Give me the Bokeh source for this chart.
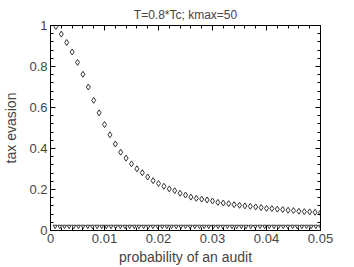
from bokeh.plotting import figure
from bokeh.models import LinearAxis, FixedTicker, Range1d
from bokeh.embed import file_html
from bokeh.resources import INLINE

# Data
audit_prob = [0.001 * k for k in range(1, 51)]
tax_evasion = [0.995, 0.958, 0.917, 0.871, 0.820, 0.762, 0.700, 0.635, 0.574, 0.517,
               0.467, 0.422, 0.382, 0.353, 0.325, 0.301, 0.282, 0.261, 0.243, 0.229,
               0.216, 0.203, 0.194, 0.182, 0.173, 0.163, 0.157, 0.153, 0.149, 0.144,
               0.137, 0.134, 0.131, 0.126, 0.123, 0.120, 0.118, 0.115, 0.112, 0.108,
               0.107, 0.104, 0.102, 0.099, 0.097, 0.094, 0.092, 0.091, 0.089, 0.086]

audit_prob_low = [0.05 * k / 58 for k in range(1, 59)]
tax_evasion_low = [0.02] * 58

x_ticks = [0, 0.01, 0.02, 0.03, 0.04, 0.05]
x_tick_labels = ["0", "0.01", "0.02", "0.03", "0.04", "0.05"]
y_ticks = [0, 0.2, 0.4, 0.6, 0.8, 1.0]
y_tick_labels = ["0", "0.2", "0.4", "0.6", "0.8", "1"]
x_minor = [i * 0.002 for i in range(26)]
y_minor = [i * 0.04 for i in range(26)]

FONT = "Liberation Sans"

p = figure(width=354, height=267, output_backend="svg", toolbar_location=None,
           x_range=Range1d(0, 0.05), y_range=Range1d(0, 1),
           title="T=0.8*Tc; kmax=50", x_axis_label="probability of an audit",
           y_axis_label="tax evasion",
           min_border_left=46, min_border_right=34, min_border_top=25, min_border_bottom=35)
p.grid.visible = False
p.outline_line_color = "black"
p.background_fill_color = "white"
p.border_fill_color = "white"

p.title.text_font = FONT
p.title.text_font_size = "12px"
p.title.text_font_style = "normal"
p.title.align = "center"
p.title.standoff = 7

def style_axis(ax, ticks, minor, labels, show_labels=True, label_standoff=3):
    ax.ticker = FixedTicker(ticks=ticks, minor_ticks=minor)
    ax.major_tick_in = 5
    ax.major_tick_out = 0
    ax.minor_tick_in = 3
    ax.minor_tick_out = 0
    ax.axis_line_color = "black"
    ax.major_tick_line_color = "black"
    ax.minor_tick_line_color = "black"
    if show_labels:
        ax.major_label_overrides = {t: l for t, l in zip(ticks, labels)}
        ax.major_label_text_font = FONT
        ax.major_label_text_font_size = "13px"
        ax.major_label_standoff = 3
        ax.axis_label_text_font = FONT
        ax.axis_label_text_font_size = "14px"
        ax.axis_label_text_font_style = "normal"
        ax.axis_label_standoff = label_standoff
    else:
        ax.major_label_text_font_size = "0px"
        ax.major_label_text_color = None
        ax.major_label_standoff = 0

style_axis(p.xaxis[0], x_ticks, x_minor, x_tick_labels, label_standoff=3)
style_axis(p.yaxis[0], y_ticks, y_minor, y_tick_labels, label_standoff=7)

top = LinearAxis()
style_axis(top, x_ticks, x_minor, x_tick_labels, show_labels=False)
p.add_layout(top, "above")
right = LinearAxis()
style_axis(right, y_ticks, y_minor, y_tick_labels, show_labels=False)
p.add_layout(right, "right")

p.scatter(audit_prob, tax_evasion, marker="diamond", size=6, fill_color=None,
          line_color="#333333", line_width=1)
p.scatter(audit_prob_low, tax_evasion_low, marker="inverted_triangle", size=4,
          fill_color=None, line_color="#333333", line_width=1)

open("out.html", "w").write(file_html(p, INLINE))
